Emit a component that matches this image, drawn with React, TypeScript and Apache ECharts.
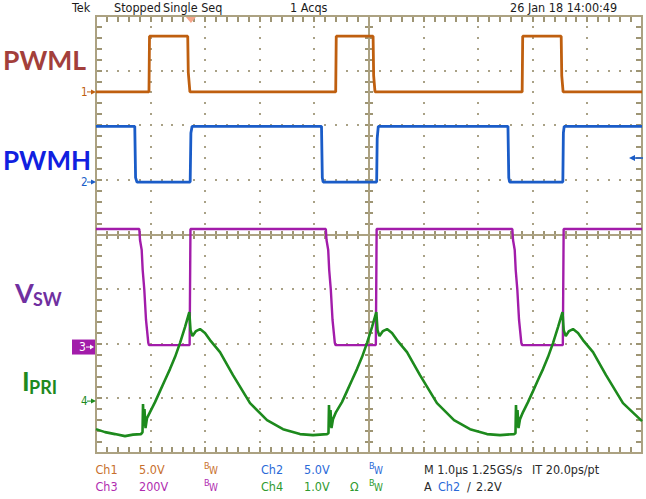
import React, { useEffect, useRef } from "react";
import * as echarts from "echarts";

// ---- Scope settings (per-division scales and ground offsets in divisions) ----
const ch1Scale = 5; // V/div
const ch2Scale = 5; // V/div
const ch3Scale = 200; // V/div
const ch4Scale = 1; // V/div
const ch1Offset = 2.61;
const ch2Offset = 0.96;
const ch3Offset = -2.06;
const ch4Offset = -3.05;
const triggerTime = -3.262; // µs
const triggerLevel = 2.2; // V on Ch2

// ---- Graticule: 10 x 8 divisions, 5 minor marks per division ----
const xDivs = [-5, -4, -3, -2, -1, 0, 1, 2, 3, 4, 5];
const yDivs = [-4, -3, -2, -1, 0, 1, 2, 3, 4];
const minorPerDiv = 5;

// ---- Waveforms: time in µs relative to screen centre (1 µs/div) ----
const pwmlTime = [-5.0, -4.03, -4.02, -3.32, -3.31, -3.28, -0.61, -0.6, 0.075, 0.085, 0.11, 2.805, 2.815, 3.52, 3.53, 3.555, 5.0];
const pwmlVolts = [0, 0, 5.1, 5.1, 1.8, 0, 0, 5.1, 5.1, 1.5, 0, 0, 5.1, 5.1, 1.5, 0, 0];

const pwmhTime = [-5.0, -4.29, -4.275, -4.25, -3.275, -3.262, -3.24, -0.87, -0.855, -0.84, 0.14, 0.15, 0.17, 2.545, 2.56, 2.575, 3.55, 3.56, 3.575, 5.0];
const pwmhVolts = [5.1, 5.1, 0.4, 0, 0, 4.5, 5.1, 5.1, 0.4, 0, 0, 4.0, 5.1, 5.1, 0.4, 0, 0, 4.5, 5.1, 5.1];

const vswTime = [
  -5.0,
  -4.207, -4.194, -4.163, -4.145, -4.115, -4.084, -4.042, -4.029,
  -3.285, -3.27,
  -0.791, -0.778, -0.747, -0.729, -0.699, -0.668, -0.626, -0.613,
  0.125, 0.14,
  2.625, 2.638, 2.669, 2.687, 2.717, 2.748, 2.79, 2.803,
  3.55, 3.565,
  5.0,
];
const vswVolts = [
  432,
  432, 392, 355, 282, 209, 99, 15, 7,
  7, 432,
  432, 392, 355, 282, 209, 99, 15, 7,
  7, 432,
  432, 392, 355, 282, 209, 99, 15, 7,
  7, 432,
  432,
];

const ipriTime = [
  -5.0, -4.835, -4.652, -4.469, -4.322, -4.176, -4.148, -4.139, -4.125, -4.112, -4.093, -4.066, -4.011,
  -3.919, -3.828, -3.736, -3.645, -3.553, -3.462, -3.37, -3.291, -3.269, -3.233, -3.168, -3.095, -3.004,
  -2.912, -2.729, -2.491, -2.179, -1.868, -1.575, -1.264, -1.026, -0.769, -0.742, -0.733, -0.718, -0.705,
  -0.687, -0.659, -0.604, -0.495, -0.403, -0.311, -0.22, -0.128, -0.037, 0.055, 0.134, 0.156, 0.192, 0.256,
  0.33, 0.421, 0.513, 0.696, 0.934, 1.245, 1.557, 1.85, 2.161, 2.399, 2.656, 2.683, 2.692, 2.707, 2.72,
  2.738, 2.766, 2.821, 2.912, 3.004, 3.095, 3.187, 3.278, 3.37, 3.462, 3.544, 3.566, 3.603, 3.663, 3.736,
  3.828, 3.919, 4.103, 4.341, 4.652, 5.0,
];
const ipriVolts = [
  -0.513, -0.568, -0.604, -0.641, -0.614, -0.604, -0.568, -0.055, -0.458, -0.147, -0.495, -0.311, -0.201,
  -0.018, 0.183, 0.385, 0.586, 0.806, 1.062, 1.355, 1.63, 1.3, 1.19, 1.282, 1.319, 1.245,
  1.117, 0.897, 0.476, -0.037, -0.348, -0.513, -0.604, -0.623, -0.604, -0.586, -0.073, -0.476, -0.165,
  -0.495, -0.33, -0.201, -0.018, 0.183, 0.385, 0.586, 0.806, 1.062, 1.355, 1.63, 1.3, 1.19, 1.282,
  1.319, 1.245, 1.117, 0.897, 0.476, -0.037, -0.348, -0.513, -0.604, -0.623, -0.604, -0.586, -0.073, -0.476, -0.165,
  -0.495, -0.33, -0.201, -0.018, 0.183, 0.385, 0.586, 0.806, 1.062, 1.355, 1.63, 1.3, 1.19, 1.282, 1.319,
  1.245, 1.117, 0.897, 0.476, -0.037, -0.366,
];

// ---- Colours ----
const C1 = "#bf5f0f";
const C2 = "#1a5cc8";
const C3 = "#a21caa";
const C4 = "#1d8a1d";
const C1t = "#c8702c";
const C2t = "#2a6ad8";
const C3t = "#b02cb0";
const C4t = "#2e9a2e";
const TAN = "#aca282";
const TICK = "#9e9574";
const DOT = "#a9a186";
const NARROW = '"Liberation Sans Narrow", "DejaVu Sans Condensed", "Liberation Sans", sans-serif';
const LABEL_FONT = 'Lato, "Open Sans", sans-serif';

const toDiv = (time: number[], vals: number[], off: number, scale: number) =>
  time.map((t, i) => [t, off + vals[i] / scale]);

const txt = (x: number, y: number, text: string, fill: string, fontSize = 12.5, extra: any = {}) => ({
  type: "text",
  x,
  y,
  silent: true,
  style: { text, fill, fontSize, lineHeight: fontSize, fontFamily: NARROW, align: "left", verticalAlign: "middle", ...extra },
});

const label = (x: number, y: number, text: string, fill: string, fontSize: number) => ({
  type: "text",
  x,
  y,
  silent: true,
  style: { text, fill, fontSize, lineHeight: fontSize - 1, fontWeight: "bold", fontFamily: LABEL_FONT, verticalAlign: "middle" },
});

const bw = (x: number, y: number, fill: string) => [
  txt(x, y - 3, "B", fill, 9),
  txt(x + 5, y + 1, "W", fill, 10),
];

const xMin = xDivs[0], xMax = xDivs[xDivs.length - 1];
const yMin = yDivs[0], yMax = yDivs[yDivs.length - 1];
const xMinor: number[] = [];
for (let i = 0; i < xDivs.length - 1; i++)
  for (let k = 0; k < minorPerDiv; k++) xMinor.push(xDivs[i] + k / minorPerDiv);
const yMinor: number[] = [];
for (let i = 0; i < yDivs.length - 1; i++)
  for (let k = 0; k < minorPerDiv; k++) yMinor.push(yDivs[i] + k / minorPerDiv);

// Graticule (dots, minor marks, centre cross, border) placed through the chart's scale
function buildGraticule(toPx: (t: number, d: number) => number[]) {
  const P = (t: number, d: number) => {
    const p = toPx(t, d);
    return [Math.round(p[0]), Math.round(p[1])];
  };
  const els: any[] = [];
  const vTick = (x: number, y1: number, y2: number) =>
    els.push({ type: "rect", silent: true, shape: { x: x - 1, y: Math.min(y1, y2), width: 2, height: Math.abs(y2 - y1) }, style: { fill: TICK } });
  const hTick = (y: number, x1: number, x2: number) =>
    els.push({ type: "rect", silent: true, shape: { x: Math.min(x1, x2), y: y - 1, width: Math.abs(x2 - x1), height: 2 }, style: { fill: TICK } });
  const dotAt = (x: number, y: number) =>
    els.push({ type: "rect", silent: true, shape: { x: x - 1, y: y - 1, width: 2, height: 2 }, style: { fill: DOT } });

  xDivs.forEach((t) => {
    if (t === 0 || t === xMin || t === xMax) return;
    yMinor.forEach((d) => {
      if (d === yMin) return;
      const p = P(t, d);
      dotAt(p[0], p[1]);
    });
  });
  yDivs.forEach((d) => {
    if (d === 0 || d === yMin || d === yMax) return;
    xMinor.forEach((t) => {
      if (t === xMin) return;
      const p = P(t, d);
      dotAt(p[0], p[1]);
    });
  });

  const EDGE = 6, CEN = 4;
  xMinor.forEach((t) => {
    if (t === xMin) return;
    const top = P(t, yMax), bot = P(t, yMin), mid = P(t, 0);
    vTick(top[0], top[1], top[1] + EDGE);
    vTick(bot[0], bot[1], bot[1] - EDGE);
    vTick(mid[0], mid[1] - CEN, mid[1] + CEN);
  });
  yMinor.forEach((d) => {
    if (d === yMin) return;
    const l = P(xMin, d), r = P(xMax, d), mid = P(0, d);
    hTick(l[1], l[0], l[0] + EDGE);
    hTick(r[1], r[0], r[0] - EDGE);
    hTick(mid[1], mid[0] - CEN, mid[0] + CEN);
  });

  const c = P(0, 0), tl = P(xMin, yMax), br = P(xMax, yMin);
  const solid = { stroke: TAN, lineWidth: 2, fill: null };
  els.push({ type: "line", silent: true, shape: { x1: c[0], y1: tl[1], x2: c[0], y2: br[1] }, style: solid });
  els.push({ type: "line", silent: true, shape: { x1: tl[0], y1: c[1], x2: br[0], y2: c[1] }, style: solid });
  els.push({ type: "rect", silent: true, shape: { x: tl[0], y: tl[1], width: br[0] - tl[0], height: br[1] - tl[1] }, style: { ...solid } });
  return els;
}

export default function App() {
  const ref = useRef<HTMLDivElement>(null);
  useEffect(() => {
    const chart = echarts.init(ref.current!, null, { renderer: "svg" });

    const seriesCommon = {
      type: "line",
      showSymbol: false,
      symbol: "none",
      silent: true,
      xAxisIndex: 0,
      yAxisIndex: 0,
    };

    chart.setOption({
      animation: false,
      backgroundColor: "#ffffff",
      grid: { left: 96, top: 16, width: 546, height: 437 },
      xAxis: { type: "value", min: xMin, max: xMax, interval: 1, show: false },
      yAxis: { type: "value", min: yMin, max: yMax, interval: 1, show: false },
      series: [
        { ...seriesCommon, name: "PWML", data: toDiv(pwmlTime, pwmlVolts, ch1Offset, ch1Scale), lineStyle: { color: C1, width: 2.8 }, z: 3 },
        { ...seriesCommon, name: "PWMH", data: toDiv(pwmhTime, pwmhVolts, ch2Offset, ch2Scale), lineStyle: { color: C2, width: 2.8 }, z: 3 },
        { ...seriesCommon, name: "VSW", data: toDiv(vswTime, vswVolts, ch3Offset, ch3Scale), lineStyle: { color: C3, width: 2.4 }, z: 3 },
        { ...seriesCommon, name: "IPRI", data: toDiv(ipriTime, ipriVolts, ch4Offset, ch4Scale), lineStyle: { color: C4, width: 2.6 }, z: 4 },
      ],
    });

    const toPx = (t: number, d: number) => chart.convertToPixel({ xAxisIndex: 0, yAxisIndex: 0 }, [t, d]) as number[];
    const y1 = toPx(0, ch1Offset)[1];
    const y2 = toPx(0, ch2Offset)[1];
    const y3 = toPx(0, ch3Offset)[1];
    const y4 = toPx(0, ch4Offset)[1];
    const trigX = toPx(triggerTime, 0)[0];
    const trigY = toPx(0, ch2Offset + triggerLevel / ch2Scale)[1];

    const marker = (lab: string, y: number, color: string) => [
      txt(81, y, lab, color, 11.5),
      { type: "line", silent: true, shape: { x1: 87, y1: y, x2: 93, y2: y }, style: { stroke: color, lineWidth: 1 } },
      { type: "polygon", silent: true, shape: { points: [[91, y - 2.5], [96, y], [91, y + 2.5]] }, style: { fill: color } },
    ];

    const graphics: any[] = [
      { type: "group", silent: true, children: buildGraticule(toPx) },
      // header
      txt(72, 7, "Tek", "#1a1a1a"),
      txt(114, 7, "Stopped", "#1a1a1a"),
      txt(163, 7, "Single Seq", "#1a1a1a"),
      txt(290, 7, "1 Acqs", "#1a1a1a"),
      txt(510, 7, "26 Jan 18 14:00:49", "#1a1a1a"),
      // trigger position marker
      { type: "polygon", silent: true, shape: { points: [[trigX - 5, 17], [trigX + 5, 17], [trigX, 23]] }, style: { fill: "#f5a58a" } },
      // trigger level arrow
      { type: "line", silent: true, shape: { x1: 633, y1: trigY, x2: 643, y2: trigY }, style: { stroke: C2, lineWidth: 1.5 } },
      { type: "polygon", silent: true, shape: { points: [[635, trigY - 3], [629, trigY], [635, trigY + 3]] }, style: { fill: C2 } },
      // channel ground markers
      ...marker("1", y1, C1),
      ...marker("2", y2, C2),
      { type: "rect", silent: true, shape: { x: 72, y: y3 - 7.5, width: 23, height: 15 }, style: { fill: C3 } },
      txt(79, y3, "3", "#ffffff", 12),
      { type: "line", silent: true, shape: { x1: 86, y1: y3, x2: 91, y2: y3 }, style: { stroke: "#ffffff", lineWidth: 1 } },
      { type: "polygon", silent: true, shape: { points: [[90, y3 - 2.5], [94, y3], [90, y3 + 2.5]] }, style: { fill: "#ffffff" } },
      ...marker("4", y4, C4),
      // signal names
      label(3, 60, "PWML", "#a33f3b", 26.5),
      label(3, 159.5, "PWMH", "#1020e0", 26),
      label(15, 292.5, "V", "#7030a0", 27),
      label(33, 299, "SW", "#7030a0", 18),
      label(22, 381, "I", "#1e8a1e", 26),
      label(29, 386.5, "PRI", "#1e8a1e", 18),
      // footer row 1
      txt(95.5, 469, "Ch1", C1t),
      txt(139, 469, "5.0V", C1t),
      ...bw(204, 469, C1t),
      txt(261, 469, "Ch2", C2t),
      txt(304, 469, "5.0V", C2t),
      ...bw(369, 469, C2t),
      txt(424, 469, "M 1.0µs 1.25GS/s", "#2a2a2a"),
      txt(532, 469, "IT 20.0ps/pt", "#2a2a2a"),
      // footer row 2
      txt(95.5, 486, "Ch3", C3t),
      txt(139, 486, "200V", C3t),
      ...bw(204, 486, C3t),
      txt(261, 486, "Ch4", C4t),
      txt(304, 486, "1.0V", C4t),
      txt(350, 486, "Ω", C4t),
      ...bw(369, 486, C4t),
      txt(424, 486, "A", "#2a2a2a"),
      txt(438, 486, "Ch2", C2t),
      txt(467, 486, "/", "#2a2a2a"),
      txt(476, 486, "2.2V", "#2a2a2a"),
    ];
    chart.setOption({ graphic: graphics });
    return () => chart.dispose();
  }, []);
  return (
    <div
      ref={ref}
      style={{ position: "fixed", left: 0, top: 0, width: 646, height: 499, background: "#ffffff" }}
    />
  );
}
